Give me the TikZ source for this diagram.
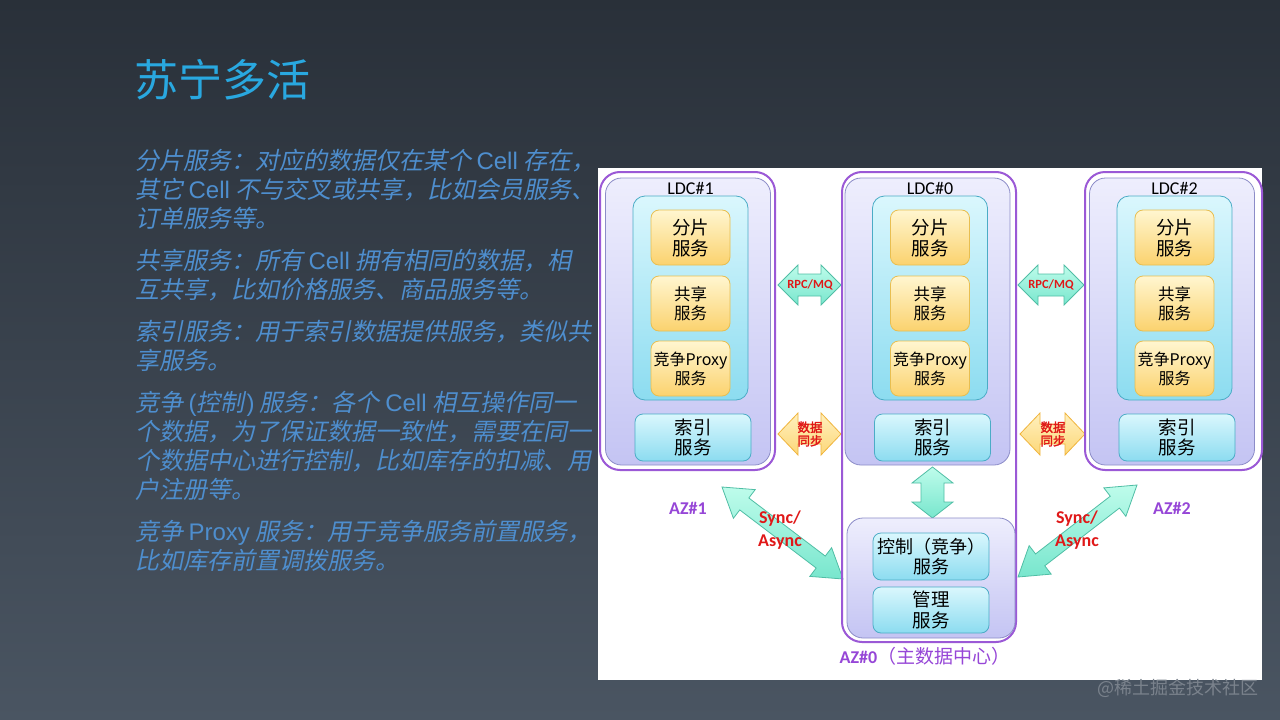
\documentclass[tikz,border=0pt]{standalone}
\usepackage{fontspec}
\setmainfont{Noto Sans CJK SC}
\newfontfamily\cjk{Noto Sans CJK SC}
\newfontfamily\cjkit{Noto Sans CJK SC}[FakeSlant=0.2]
\newfontfamily\cjkb{Noto Sans CJK SC}[FakeBold=2]
\newfontfamily\latf{Liberation Sans}
\newfontfamily\carl{Carlito}
\usetikzlibrary{calc}
\definecolor{bgtop}{RGB}{41,48,57}
\definecolor{bgbot}{RGB}{74,85,98}
\definecolor{titlec}{RGB}{41,168,224}
\definecolor{bodyc}{RGB}{78,142,206}
\definecolor{purp}{RGB}{155,89,214}
\definecolor{azp}{RGB}{150,70,215}
\definecolor{redc}{RGB}{224,24,24}
\definecolor{wm}{RGB}{122,130,140}
\newcommand{\dblarrow}[6]{%
  \coordinate (#1-#2-p) at ($(#1)!#3!(#2)$);
  \coordinate (#1-#2-q) at ($(#2)!#3!(#1)$);
  \draw[#6] (#1) -- ($(#1-#2-p)!#4!90:(#2)$) -- ($(#1-#2-p)!#5!90:(#2)$)
    -- ($(#1-#2-q)!#5!90:(#2)$) -- ($(#1-#2-q)!#4!90:(#2)$) -- (#2)
    -- ($(#1-#2-q)!#4!-90:(#2)$) -- ($(#1-#2-q)!#5!-90:(#2)$)
    -- ($(#1-#2-p)!#5!-90:(#2)$) -- ($(#1-#2-p)!#4!-90:(#2)$) -- cycle;
}
\tikzset{
  bodyline/.style={anchor=base west, inner sep=0pt, text=bodyc, font=\cjkit\fontsize{24}{28}\selectfont},
  purpbox/.style={draw=purp, line width=2pt, rounded corners=20pt, inner sep=0pt, minimum width=175pt},
  lavbox/.style={draw={rgb,255:red,140;green,140;blue,200}, line width=0.8pt, rounded corners=16pt,
    top color={rgb,255:red,238;green,238;blue,253}, bottom color={rgb,255:red,196;green,196;blue,243}, inner sep=0pt},
  cybox/.style={draw={rgb,255:red,75;green,172;blue,198}, line width=0.8pt, rounded corners=12pt,
    top color={rgb,255:red,218;green,247;blue,253}, bottom color={rgb,255:red,140;green,220;blue,240}, inner sep=0pt},
  idxbox/.style={cybox, rounded corners=8pt, minimum width=116pt, minimum height=47pt, align=center,
    font=\cjk\fontsize{18.5}{20.5}\selectfont},
  yelbox/.style={draw={rgb,255:red,232;green,190;blue,80}, line width=0.8pt, rounded corners=8pt,
    top color={rgb,255:red,255;green,246;blue,208}, bottom color={rgb,255:red,251;green,210;blue,110},
    inner sep=0pt, minimum width=79pt, minimum height=55pt, align=center},
  ldclbl/.style={font=\carl\fontsize{18}{20}\selectfont, inner sep=0pt},
  mintarrow/.style={draw={rgb,255:red,80;green,190;blue,165}, line width=0.8pt, line join=miter,
    top color={rgb,255:red,190;green,252;blue,235}, bottom color={rgb,255:red,120;green,230;blue,205}},
  yelarrow/.style={draw={rgb,255:red,240;green,180;blue,60}, line width=0.8pt, line join=miter,
    top color={rgb,255:red,255;green,240;blue,190}, bottom color={rgb,255:red,252;green,215;blue,120}},
  redlbl/.style={text=redc, inner sep=0pt, align=center},
  azlbl/.style={text=azp, inner sep=0pt, font=\carl\bfseries\fontsize{18}{20}\selectfont},
}
\begin{document}
\begin{tikzpicture}[x=1pt,y=-1pt]
\useasboundingbox (0,0) rectangle (1280,720);
\shade[top color=bgtop, bottom color=bgbot] (0,0) rectangle (1280,720);

% title
\node[anchor=west, inner sep=0pt, text=titlec, font=\cjk\fontsize{44}{48}\selectfont] (title) at (134,80) {苏宁多活};

% body text
\node[bodyline] (p1a) at (135,169) {分片服务：对应的数据仅在某个 {\latf Cell} 存在，};
\node[bodyline] (p1b) at (135,198) {其它 {\latf Cell} 不与交叉或共享，比如会员服务、};
\node[bodyline] (p1c) at (135,227) {订单服务等。};
\node[bodyline] (p2a) at (135,269) {共享服务：所有 {\latf Cell} 拥有相同的数据，相};
\node[bodyline] (p2b) at (135,298) {互共享，比如价格服务、商品服务等。};
\node[bodyline] (p3a) at (135,340) {索引服务：用于索引数据提供服务，类似共};
\node[bodyline] (p3b) at (135,369) {享服务。};
\node[bodyline] (p4a) at (135,411) {竞争 {\latf (}控制\kern2pt{\latf )} 服务：各个 {\latf Cell} 相互操作同一};
\node[bodyline] (p4b) at (135,440) {个数据，为了保证数据一致性，需要在同一};
\node[bodyline] (p4c) at (135,469) {个数据中心进行控制，比如库存的扣减、用};
\node[bodyline] (p4d) at (135,498) {户注册等。};
\node[bodyline] (p5a) at (135,540) {竞争 {\latf Proxy} 服务：用于竞争服务前置服务，};
\node[bodyline] (p5b) at (135,569) {比如库存前置调拨服务。};

% white panel
\fill[white] (598,168) rectangle (1262,680);

% arrow end points
\coordinate (r1a) at (778,285); \coordinate (r1b) at (841,285);
\coordinate (r2a) at (1018,285); \coordinate (r2b) at (1084,285);
\coordinate (s1a) at (778,434); \coordinate (s1b) at (841,434);
\coordinate (s2a) at (1020,434); \coordinate (s2b) at (1085,434);
\coordinate (va) at (932.5,467); \coordinate (vb) at (932.5,518);
\coordinate (d1a) at (722,487); \coordinate (d1b) at (843,579);
\coordinate (d2a) at (1137,485); \coordinate (d2b) at (1018,577);

% arrows
\dblarrow{r1a}{r1b}{20pt}{20pt}{11pt}{mintarrow}
\dblarrow{r2a}{r2b}{20pt}{20pt}{11pt}{mintarrow}
\dblarrow{s1a}{s1b}{20pt}{21pt}{10pt}{yelarrow}
\dblarrow{s2a}{s2b}{20pt}{21pt}{10pt}{yelarrow}
\dblarrow{va}{vb}{16pt}{20.5pt}{11.5pt}{mintarrow}
\dblarrow{d1a}{d1b}{28pt}{18pt}{7.5pt}{mintarrow}
\dblarrow{d2a}{d2b}{28pt}{18pt}{7.5pt}{mintarrow}

% outer purple boxes
\node[purpbox, minimum height=298pt] (o1) at (687.5,321) {};
\node[purpbox, minimum width=174pt, minimum height=470pt] (o0) at (929,407) {};
\node[purpbox, minimum width=177pt, minimum height=298pt] (o2) at (1173.5,321) {};

% LDC contents
\foreach \n/\c in {1/690.5, 0/930, 2/1174.5} {
  \node[lavbox, minimum width=165pt, minimum height=287pt] (lav\n) at (\c-2.5,321.5) {};
  \node[ldclbl] (t\n) at (\c,188) {LDC\#\n};
  \node[cybox, minimum width=115pt, minimum height=204pt] (cy\n) at (\c,298) {};
  \node[yelbox, font=\cjk\fontsize{18.5}{21}\selectfont] (fp\n) at (\c,237.5) {分片\\服务};
  \node[yelbox, font=\cjk\fontsize{16.5}{19}\selectfont] (gx\n) at (\c,303.5) {共享\\服务};
  \node[yelbox, font=\cjk\fontsize{16}{19}\selectfont] (jz\n) at (\c,368.5) {竞争Proxy\\服务};
  \node[idxbox] (sy\n) at (\c+2.5,437.5) {索引\\服务};
}

% AZ#0 bottom box
\node[lavbox, minimum width=168pt, minimum height=120pt] (az0box) at (931,578) {};
\node[idxbox, font=\cjk\fontsize{18}{20}\selectfont] (ctl) at (931,556.5) {控制（竞争）\\服务};
\node[idxbox, minimum height=46pt, font=\cjk\fontsize{18.5}{21}\selectfont] (mgr) at (931,610) {管理\\服务};

% arrow labels
\node[redlbl, font=\carl\bfseries\fontsize{12.5}{14}\selectfont] (rpc1) at (810,285) {RPC/MQ};
\node[redlbl, font=\carl\bfseries\fontsize{12.5}{14}\selectfont] (rpc2) at (1051,285) {RPC/MQ};
\node[redlbl, font=\cjkb\fontsize{12.5}{13.5}\selectfont] (sync1) at (810,434) {数据\\同步};
\node[redlbl, font=\cjkb\fontsize{12.5}{13.5}\selectfont] (sync2) at (1053,434) {数据\\同步};
\node[redlbl, font=\carl\bfseries\fontsize{18}{23}\selectfont] (sa1) at (780,530) {Sync/\\Async};
\node[redlbl, font=\carl\bfseries\fontsize{18}{23}\selectfont] (sa2) at (1077,530) {Sync/\\Async};

% AZ labels
\node[azlbl] (az1) at (688,508) {AZ\#1};
\node[azlbl] (az2) at (1172,508) {AZ\#2};
\node[azlbl] (az0) at (925,656) {AZ\#0{\cjk\mdseries\fontsize{19}{20}\selectfont（主数据中心）}};

% watermark
\node[text=wm, inner sep=0pt, font=\cjk\fontsize{18}{20}\selectfont] (wmark) at (1178,688) {@稀土掘金技术社区};
\end{tikzpicture}
\end{document}
